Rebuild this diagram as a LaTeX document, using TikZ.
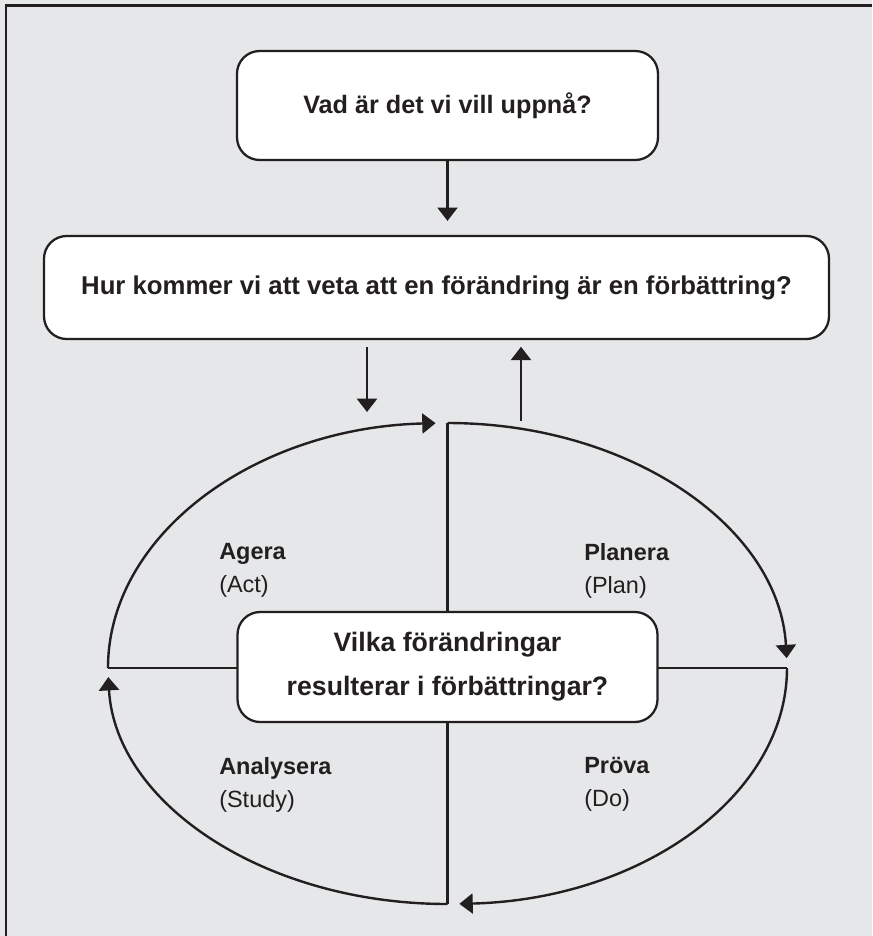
\documentclass[tikz,border=0pt]{standalone}
\usepackage{fontspec}
\setmainfont{Liberation Sans}
\usetikzlibrary{arrows.meta,calc,positioning}
\definecolor{pdsaInk}{HTML}{231F20}
\definecolor{pdsaBg}{HTML}{E6E7E8}

\begin{document}
\begin{tikzpicture}[x=0.75pt,y=-0.75pt,
  qbox/.style={draw=pdsaInk,fill=white,line width=1.7pt,rounded corners=17pt,
    align=center,inner sep=0pt,text=pdsaInk,
    font=\fontsize{19.3pt}{25pt}\selectfont\bfseries},
  arr/.style={-{Triangle[length=10pt,width=15pt]},pdsaInk,line width=1.8pt},
  cyc/.style={pdsaInk,line width=1.8pt},
  phase/.style={anchor=north west,align=left,inner sep=0pt,text=pdsaInk,
    font=\fontsize{17.6pt}{24.75pt}\selectfont}
]
  \useasboundingbox (0,0) rectangle (872,936);
  \fill[pdsaBg] (0,0) rectangle (872,936);
  \draw[pdsaInk,line width=1.9pt] (6,936) -- (6,5.5) -- (872,5.5);

  % questions
  \node[qbox,minimum width=315.75pt,minimum height=81.75pt,font=\fontsize{18.9pt}{25pt}\selectfont\bfseries] (aim) at (447.5,105.5) {Vad är det vi vill uppnå?};
  \node[qbox,minimum width=588.75pt,minimum height=77.25pt] (measure) at (436.5,287.5) {Hur kommer vi att veta att en förändring är en förbättring?};
  \draw[arr,shorten >=10.5pt] (aim.south) -- (aim.south |- measure.north);

  % cycle
  \coordinate (cN) at (447.5,423);
  \coordinate (cS) at (447.5,904);
  \coordinate (cW) at (108,668);
  \coordinate (cE) at (787,668);
  \draw[cyc] (cN) -- (cS);
  \draw[cyc] (cW) -- (cE);
  \draw[arr] (cW) arc[start angle=180,end angle=92,x radius=254.6pt,y radius=183.75pt];
  \draw[arr] (cN) arc[start angle=90,end angle=2.3,x radius=254.6pt,y radius=183.75pt];
  \draw[arr] (cE) arc[start angle=0,end angle=-88,x radius=254.6pt,y radius=177pt];
  \draw[arr] (cS) arc[start angle=270,end angle=182.2,x radius=254.6pt,y radius=177pt];

  \coordinate (dnEnd) at (367,412);
  \coordinate (upStart) at (521,421);
  \draw[arr,shorten <=5pt] (measure.south -| dnEnd) -- (dnEnd);
  \draw[arr,shorten >=5pt] (upStart) -- (upStart |- measure.south);

  \node[qbox,minimum width=315pt,minimum height=82.5pt,font=\fontsize{20pt}{33pt}\selectfont\bfseries] (change) at (447.5,667) {Vilka förändringar\\resulterar i förbättringar?};

  % phases
  \node[phase] (act) at (219,543) {\textbf{Agera}\\(Act)};
  \node[phase] (plan) at (584,543) {\textbf{Planera}\\(Plan)};
  \node[phase] (study) at (219,757) {\textbf{Analysera}\\(Study)};
  \node[phase] (do) at (584,757) {\textbf{Pröva}\\(Do)};
\end{tikzpicture}
\end{document}
